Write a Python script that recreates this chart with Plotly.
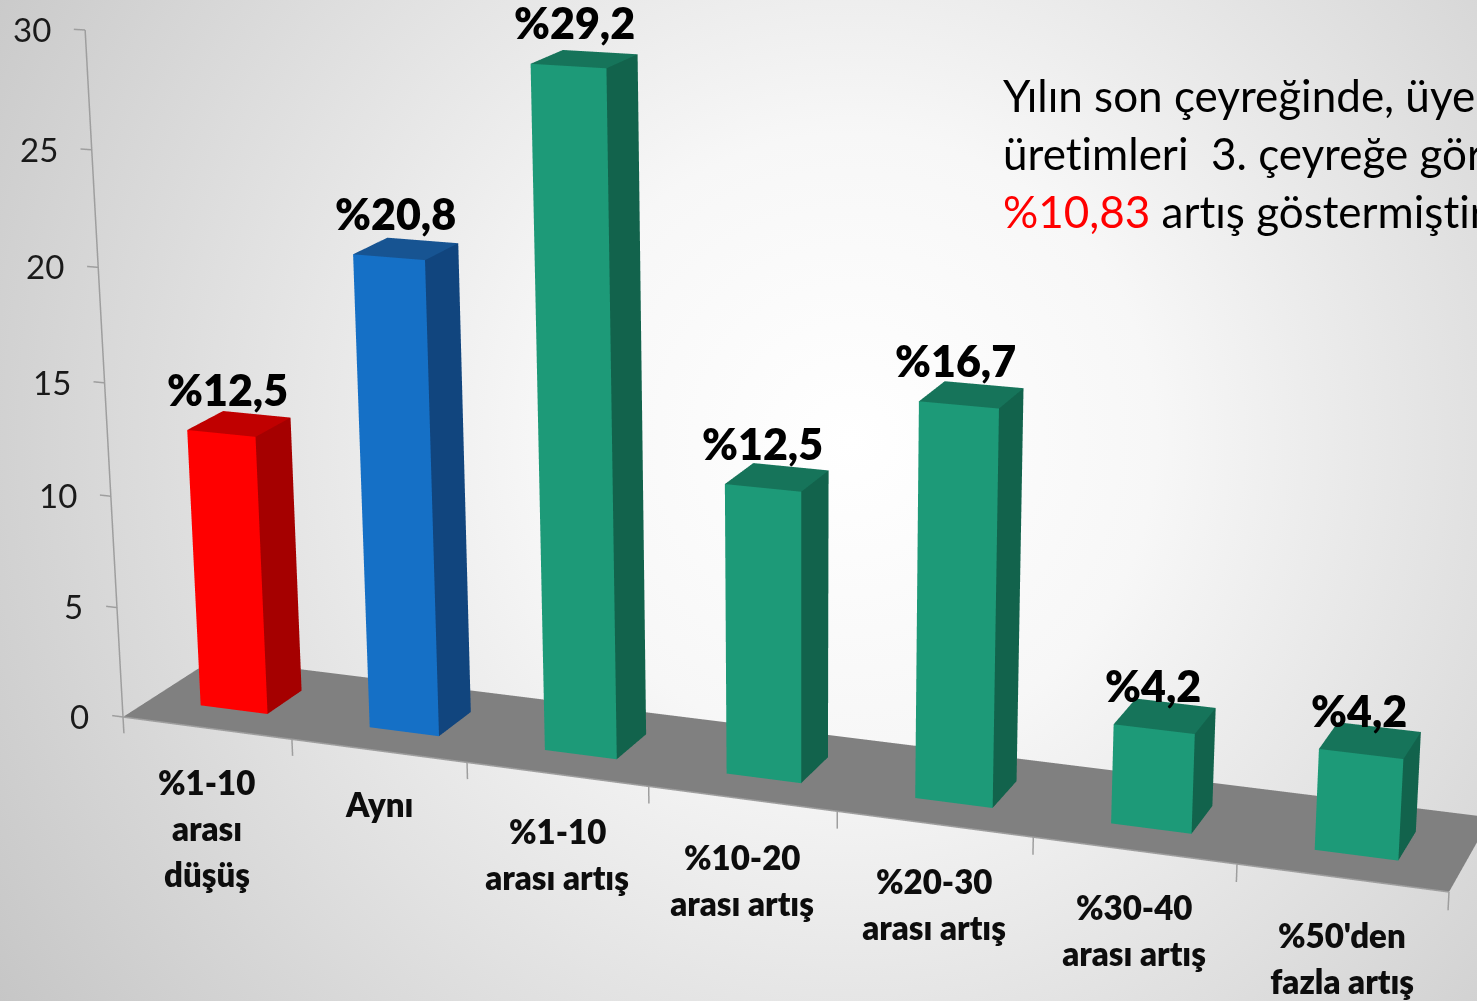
import base64
import numpy as np
import plotly.graph_objects as go

# ---------- chart data ----------
categories = [["%1-10", "arası", "düşüş"], ["Aynı"], ["%1-10", "arası artış"],
              ["%10-20", "arası artış"], ["%20-30", "arası artış"],
              ["%30-40", "arası artış"], ["%50'den", "fazla artış"]]
values = [12.5, 20.8, 29.2, 12.5, 16.7, 4.2, 4.2]
value_labels = ["%12,5", "%20,8", "%29,2", "%12,5", "%16,7", "%4,2", "%4,2"]
y_ticks = [0, 5, 10, 15, 20, 25, 30]
note_lines = ["Yılın son çeyreğinde, üye", "üretimleri  3. çeyreğe göre",
              "<span style='color:#ff0000'>%10,83</span> artış göstermiştir"]
front_colors = ["#FF0000", "#1570C6"] + ["#1D9A78"] * 5
side_colors = ["#A50000", "#11457E"] + ["#12634C"] * 5
top_colors = ["#C00000", "#175492"] + ["#16745A"] * 5
label_dx = [6, 7, 6, 0, -3, -1, -2]
cat_dy = [-1, -2, 2, 3, 2, 2, 2]

# ---------- view calibration: floor corners and axis top as seen in the picture ----------
W, H = 1477, 1001
FLOOR = {(0, 0): (123, 717), (7, 0): (1449, 892), (7, 1): (1491, 817.5), (0, 1): (214, 658.5)}
AXIS_TOP = (85, 30)
VERT_VP = (800, 13000)
F = (H / 2) / np.tan(np.pi / 8)
CX, CY = W / 2, H / 2

rows, rhs = [], []
for (s, d), (u, v) in FLOOR.items():
    rows.append([s, d, 1, 0, 0, 0, -u * s, -u * d]); rhs.append(u)
    rows.append([0, 0, 0, s, d, 1, -v * s, -v * d]); rhs.append(v)
h = np.linalg.solve(np.array(rows, float), np.array(rhs, float))
Hm = np.array([[h[0], h[1], h[2]], [h[3], h[4], h[5]], [h[6], h[7], 1.0]])
h_s, h_d, h_0 = Hm[:, 0], Hm[:, 1], Hm[:, 2]
alpha = (AXIS_TOP[1] * h_0[2] - h_0[1]) / (30 * (VERT_VP[1] - AXIS_TOP[1]))
h_v = alpha * np.array([VERT_VP[0], VERT_VP[1], 1.0])


def to_cam(col):
    return np.array([(col[0] - CX * col[2]) / F, (col[1] - CY * col[2]) / F, col[2]])


m_s, m_d, m_v, m_0 = to_cam(h_s), to_cam(h_d), to_cam(h_v), to_cam(h_0)
unit = np.linalg.norm(m_s)
m_s, m_d, m_v, m_0 = m_s / unit, m_d / unit, m_v / unit, m_0 / unit
n = np.cross(m_s, m_d); n /= np.linalg.norm(n)
if n @ m_v < 0:
    n = -n
Wx = m_s
Wy = np.cross(n, Wx)
zk = m_v @ n


def X(s, d, v):
    return s + d * (m_d @ Wx) + v * (m_v @ Wx)


def Y(s, d, v):
    return d * (m_d @ Wy) + v * (m_v @ Wy)


corners = [(s, d, v) for s in (-0.3, 7.3) for d in (0, 1) for v in (-1, 31)]
xs = [X(*c) for c in corners]; ys = [Y(*c) for c in corners]
xr = [min(xs), max(xs)]; yr = [min(ys), max(ys)]; zr = [-1, 31]
sc = 0.2
asp = dict(x=(xr[1] - xr[0]) * sc, y=(yr[1] - yr[0]) * sc, z=32 * zk * sc)
mid = np.array([sum(xr) / 2, sum(yr) / 2, 15 * zk])
eye_w = -np.array([m_0 @ Wx, m_0 @ Wy, m_0 @ n])
eye = (eye_w - mid) * sc
fw = np.array([Wx[2], Wy[2], n[2]])
dn = np.array([Wx[1], Wy[1], n[1]])
ctr = eye + fw * 1.0
camera = dict(eye=dict(x=eye[0], y=eye[1], z=eye[2]), center=dict(x=ctr[0], y=ctr[1], z=ctr[2]),
              up=dict(x=-dn[0], y=-dn[1], z=-dn[2]), projection=dict(type="perspective"))

LIGHT = dict(ambient=1, diffuse=0, specular=0, roughness=1, fresnel=0)
fig = go.Figure()

# floor
fs = [0, 7, 7, 0]; fd = [0, 0, 1, 1]
fig.add_trace(go.Mesh3d(x=[X(a, b, 0) for a, b in zip(fs, fd)], y=[Y(a, b, 0) for a, b in zip(fs, fd)],
                        z=[0] * 4, i=[0, 0], j=[1, 2], k=[2, 3], color="#808080", flatshading=True,
                        lighting=LIGHT, hoverinfo="skip"))

# bars
S0, S1, D0, D1 = 0.30, 0.70, 0.30, 0.69
for b, val in enumerate(values):
    verts = [(b + S0, D0, 0), (b + S1, D0, 0), (b + S1, D1, 0), (b + S0, D1, 0),
             (b + S0, D0, val), (b + S1, D0, val), (b + S1, D1, val), (b + S0, D1, val)]
    i = [0, 0, 1, 1, 4, 4]
    j = [1, 5, 2, 6, 5, 6]
    k = [5, 4, 6, 5, 6, 7]
    fc = [front_colors[b]] * 2 + [side_colors[b]] * 2 + [top_colors[b]] * 2
    fig.add_trace(go.Mesh3d(x=[X(*p) for p in verts], y=[Y(*p) for p in verts], z=[p[2] for p in verts],
                            i=i, j=j, k=k, facecolor=fc, flatshading=True, lighting=LIGHT, hoverinfo="skip"))


def line(pts, color="#9E9E9E", width=3):
    fig.add_trace(go.Scatter3d(x=[X(*p) for p in pts], y=[Y(*p) for p in pts], z=[p[2] for p in pts],
                               mode="lines", line=dict(color=color, width=width), hoverinfo="skip"))


line([(0, 0, 0), (0, 0, 30)])
line([(0, 0, 0), (7, 0, 0)])
for t in y_ticks:
    line([(0, 0, t), (-0.065, 0, t)])
for c in range(8):
    line([(c, 0, 0), (c, 0, -0.75)])

ann = []
for t in y_ticks:
    ann.append(dict(x=X(-0.065, 0, t), y=Y(-0.065, 0, t), z=t, text=str(t), showarrow=False, xanchor="right",
                    yanchor="middle", xshift=-21, font=dict(family="Lato", size=33, color="#1A1A1A")))
for c, lines in enumerate(categories):
    for ln, tx in enumerate(lines):
        ann.append(dict(x=X(c + 0.5, 0, 0), y=Y(c + 0.5, 0, 0), z=0, text=tx, showarrow=False,
                        xanchor="center", yanchor="middle", yshift=-(55 + cat_dy[c] + 46 * ln),
                        font=dict(family="Lato", size=33, color="#0D0D0D", weight=800)))
for b, (val, lab) in enumerate(zip(values, value_labels)):
    sm = b + (S0 + S1) / 2
    ann.append(dict(x=X(sm, D0, val), y=Y(sm, D0, val), z=val, text=lab, showarrow=False,
                    xanchor="center", yanchor="middle", xshift=label_dx[b], yshift=44,
                    font=dict(family="Lato", size=43, color="#000000", weight=800)))

bg = ("<svg xmlns='http://www.w3.org/2000/svg' width='1477' height='1001'>"
      "<defs><radialGradient id='g' gradientUnits='userSpaceOnUse' cx='850' cy='440' r='1020'>"
      "<stop offset='0' stop-color='#ffffff'/><stop offset='0.3' stop-color='#f7f7f7'/>"
      "<stop offset='1' stop-color='#c6c6c6'/></radialGradient></defs>"
      "<rect width='1477' height='1001' fill='url(#g)'/></svg>")
bg_uri = "data:image/svg+xml;base64," + base64.b64encode(bg.encode()).decode()

notes = [dict(x=1001, y=ny, xref="x", yref="y", text=tx, showarrow=False, xanchor="left", yanchor="middle",
              align="left", font=dict(family="Lato", size=44, color="#000000"))
         for tx, ny in zip(note_lines, (95, 153, 211))]

fig.update_layout(
    width=W, height=H, margin=dict(l=0, r=0, t=0, b=0), showlegend=False,
    paper_bgcolor="rgba(0,0,0,0)", plot_bgcolor="rgba(0,0,0,0)",
    xaxis=dict(range=[0, W], visible=False, fixedrange=True),
    yaxis=dict(range=[H, 0], visible=False, fixedrange=True),
    images=[dict(source=bg_uri, xref="paper", yref="paper", x=0, y=1, sizex=1, sizey=1, xanchor="left",
                 yanchor="top", sizing="stretch", layer="below")],
    annotations=notes,
    scene=dict(domain=dict(x=[0, 1], y=[0, 1]), bgcolor="rgba(0,0,0,0)", dragmode="orbit",
               aspectmode="manual", aspectratio=asp, camera=camera,
               xaxis=dict(visible=False, range=xr), yaxis=dict(visible=False, range=yr),
               zaxis=dict(visible=False, range=zr), annotations=ann),
)
fig.write_html("out.html", config=dict(displayModeBar=False),
               post_script="document.body.style.margin='0';document.body.style.overflow='hidden';"
                           "var st=document.createElement('style');"
                           "st.textContent='svg text,svg tspan{font-variant-ligatures:none !important;"
                           "font-feature-settings:\"liga\" 0,\"clig\" 0 !important;}';"
                           "document.head.appendChild(st);")
